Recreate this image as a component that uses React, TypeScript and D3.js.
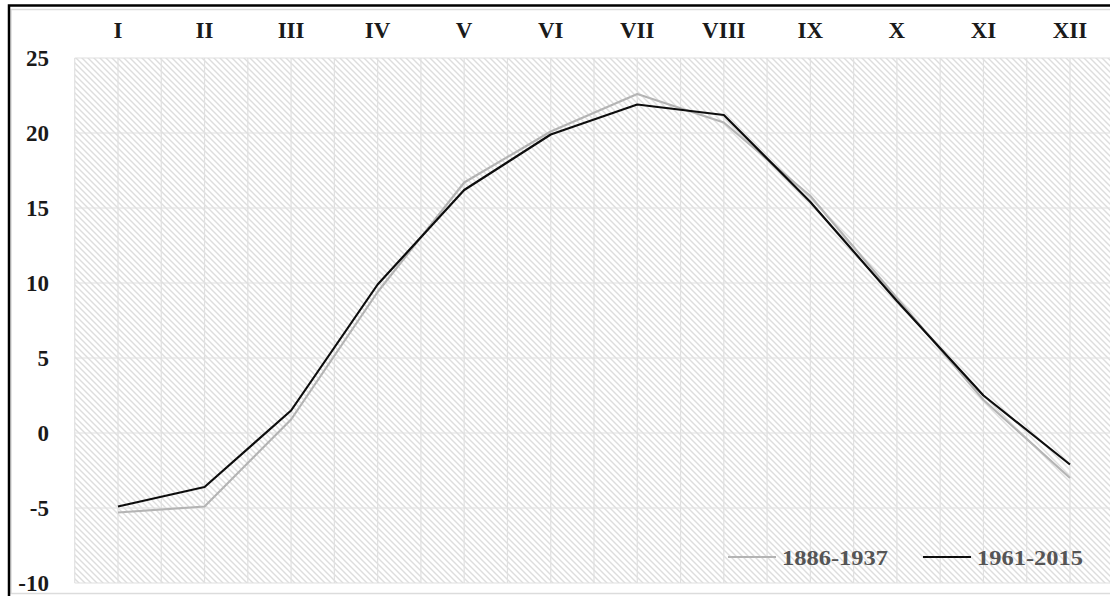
import React, { useRef, useEffect } from "react";
import * as d3 from "d3";

const months = ["I", "II", "III", "IV", "V", "VI", "VII", "VIII", "IX", "X", "XI", "XII"];
const series1886 = [-5.3, -4.9, 0.9, 9.4, 16.7, 20.1, 22.6, 20.7, 15.8, 9.0, 2.2, -3.0];
const series1961 = [-4.9, -3.6, 1.5, 9.9, 16.2, 19.9, 21.9, 21.2, 15.4, 8.8, 2.5, -2.1];
const yTicks = [25, 20, 15, 10, 5, 0, -5, -10];
const legendLabels = ["1886-1937", "1961-2015"];

const WIDTH = 1110;
const HEIGHT = 596;

function drawChart(svgElement: SVGSVGElement) {
  const svg = d3.select(svgElement);
  svg.selectAll("*").remove();

  const serif = "'Liberation Serif', 'Times New Roman', serif";

  const x = d3.scalePoint<string>().domain(months).range([118, 1070]);
  const y = d3.scaleLinear().domain([-10, 25]).range([583, 58]);
  const step = x.step();
  const plotLeft = (x(months[0]) as number) - step / 2;
  const plotRight = (x(months[months.length - 1]) as number) + step / 2;

  // hatch pattern for the plot background
  const defs = svg.append("defs");
  const pattern = defs
    .append("pattern")
    .attr("id", "hatch")
    .attr("patternUnits", "userSpaceOnUse")
    .attr("width", 6)
    .attr("height", 6);
  pattern.append("rect").attr("width", 6).attr("height", 6).attr("fill", "#ffffff");
  pattern
    .append("path")
    .attr("d", "M0,0 L6,6 M-1,5 L1,7 M5,-1 L7,1")
    .attr("stroke", "#dddddd")
    .attr("stroke-width", 1.4);

  // outer frame
  svg
    .append("rect")
    .attr("x", 11)
    .attr("y", 9.5)
    .attr("width", WIDTH + 20)
    .attr("height", 584)
    .attr("fill", "none")
    .attr("stroke", "#dcdcdc")
    .attr("stroke-width", 1.5);
  svg
    .append("path")
    .attr("d", `M9,${HEIGHT + 5} L9,5.5 L${WIDTH + 5},5.5`)
    .attr("fill", "none")
    .attr("stroke", "#000")
    .attr("stroke-width", 2.5);

  // plot area
  svg
    .append("rect")
    .attr("x", plotLeft)
    .attr("y", y(25))
    .attr("width", plotRight - plotLeft)
    .attr("height", y(-10) - y(25))
    .attr("fill", "url(#hatch)");

  // grid
  const grid = svg.append("g").attr("stroke", "#e0e0e0").attr("stroke-width", 1.2);
  const halfSteps = d3.range(0, months.length * 2 + 1).map((i) => plotLeft + (i * step) / 2);
  grid
    .selectAll("line.v")
    .data(halfSteps)
    .enter()
    .append("line")
    .attr("x1", (d) => d)
    .attr("x2", (d) => d)
    .attr("y1", y(25))
    .attr("y2", y(-10));
  grid
    .selectAll("line.h")
    .data(yTicks)
    .enter()
    .append("line")
    .attr("x1", plotLeft)
    .attr("x2", plotRight)
    .attr("y1", (d) => y(d))
    .attr("y2", (d) => y(d));

  // lines
  const line = d3
    .line<number>()
    .x((_, i) => x(months[i]) as number)
    .y((d) => y(d));

  svg
    .append("path")
    .datum(series1886)
    .attr("d", line)
    .attr("fill", "none")
    .attr("stroke", "#b4b4b4")
    .attr("stroke-width", 2.2)
    .attr("stroke-linejoin", "round");
  svg
    .append("path")
    .datum(series1961)
    .attr("d", line)
    .attr("fill", "none")
    .attr("stroke", "#0d0d0d")
    .attr("stroke-width", 2.2)
    .attr("stroke-linejoin", "round");

  // x labels (top)
  svg
    .append("g")
    .selectAll("text")
    .data(months)
    .enter()
    .append("text")
    .attr("x", (d) => x(d) as number)
    .attr("y", 38)
    .attr("text-anchor", "middle")
    .attr("font-family", serif)
    .attr("font-weight", "bold")
    .attr("font-size", 23)
    .attr("fill", "#1a1a1a")
    .text((d) => d);

  // y labels
  svg
    .append("g")
    .selectAll("text")
    .data(yTicks)
    .enter()
    .append("text")
    .attr("x", 49)
    .attr("y", (d) => y(d) + 8)
    .attr("text-anchor", "end")
    .attr("font-family", serif)
    .attr("font-weight", "bold")
    .attr("font-size", 23)
    .attr("fill", "#1a1a1a")
    .text((d) => d);

  // legend
  const legendColors = ["#b4b4b4", "#0d0d0d"];
  const legendX = [728, 923];
  const legend = svg.append("g");
  legendLabels.forEach((label, i) => {
    legend
      .append("line")
      .attr("x1", legendX[i])
      .attr("x2", legendX[i] + 48)
      .attr("y1", 557)
      .attr("y2", 557)
      .attr("stroke", legendColors[i])
      .attr("stroke-width", 2);
    legend
      .append("text")
      .attr("x", legendX[i] + 54)
      .attr("y", 565)
      .attr("font-family", serif)
      .attr("font-weight", "bold")
      .attr("font-size", 20)
      .attr("fill", "#555555")
      .attr("textLength", 106)
      .attr("lengthAdjust", "spacingAndGlyphs")
      .text(label);
  });
}

const App: React.FunctionComponent = function () {
  const svgRef = useRef<SVGSVGElement>(null);

  useEffect(() => {
    if (svgRef.current == null) {
      return;
    }
    drawChart(svgRef.current);
  }, []);

  return (
    <svg
      ref={svgRef}
      width={WIDTH}
      height={HEIGHT}
      style={{ position: "absolute", left: 0, top: 0, background: "#fff" }}
    ></svg>
  );
};

export default App;
